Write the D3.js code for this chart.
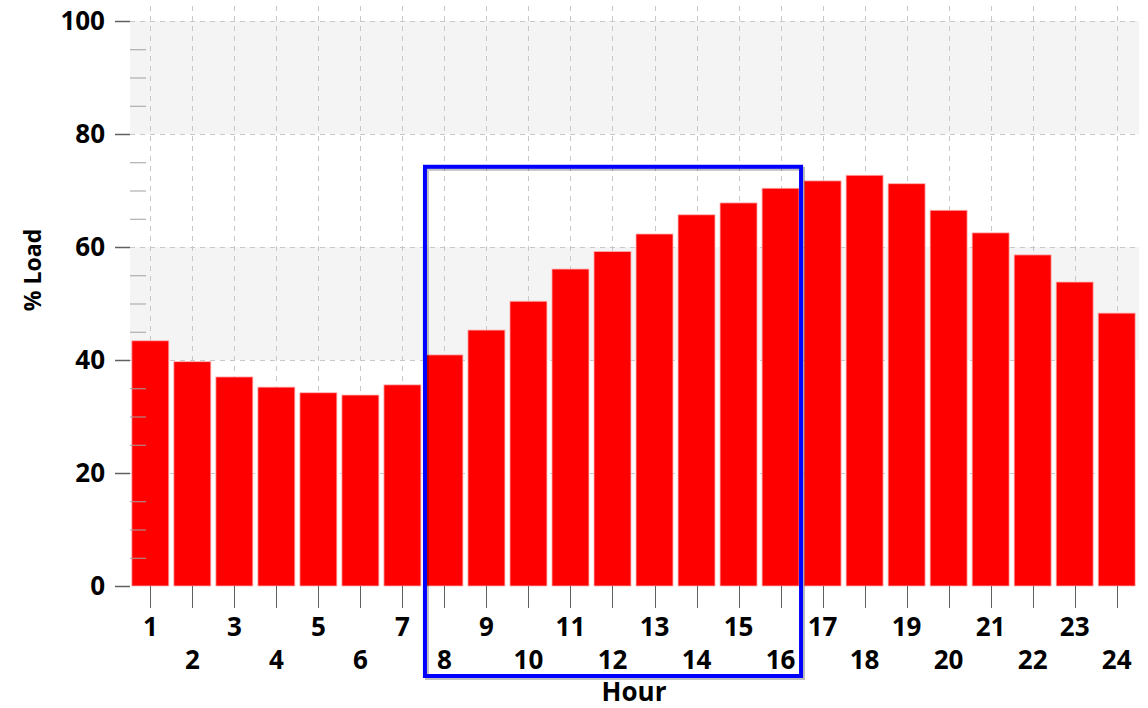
<html>
<head>
<script src="https://cdnjs.cloudflare.com/ajax/libs/d3/7.8.5/d3.min.js"></script>
<style>
body { margin: 0; background: #fff; }
text { font-family: "Open Sans", "Noto Sans", sans-serif; font-weight: bold; fill: #000; }
</style>
</head>
<body>
<svg width="1148" height="708" id="chart"></svg>
<script>
// hourly load profile
var hours = d3.range(1, 25);
var load = [43.4, 39.7, 37.0, 35.2, 34.2, 33.8, 35.6, 40.9, 45.3, 50.4, 56.1, 59.2,
            62.3, 65.7, 67.8, 70.4, 71.7, 72.7, 71.2, 66.5, 62.5, 58.6, 53.8, 48.3];
var yTicks = [0, 20, 40, 60, 80, 100];
var shadedBands = [[80, 100], [40, 60]];
var highlight = [8, 16]; // boxed hours

var svg = d3.select("#chart");
var pLeft = 130, pRight = 1139, pTop = 21, pBottom = 586;

var x = d3.scaleBand().domain(hours).range([pLeft + 1, pRight - 3]).paddingInner(0.12).paddingOuter(0.02);
var y = d3.scaleLinear().domain([0, 100]).range([pBottom, pTop]);

// shaded bands
svg.append("g").selectAll("rect")
  .data(shadedBands)
  .enter().append("rect")
  .attr("x", pLeft)
  .attr("width", pRight - pLeft)
  .attr("y", function(d) { return y(d[1]); })
  .attr("height", function(d) { return y(d[0]) - y(d[1]); })
  .style("fill", "#f4f4f4");

// grid
var grid = svg.append("g").style("stroke", "#c8c8c8").style("stroke-dasharray", "5,5").style("stroke-width", 1);
grid.selectAll("line.h")
  .data(yTicks.slice(1))
  .enter().append("line")
  .attr("x1", pLeft).attr("x2", pRight)
  .attr("y1", function(d) { return y(d) + 0.5; })
  .attr("y2", function(d) { return y(d) + 0.5; });
grid.selectAll("line.v")
  .data(hours)
  .enter().append("line")
  .attr("x1", function(d) { return Math.round(x(d) + x.bandwidth() / 2) + 0.5; })
  .attr("x2", function(d) { return Math.round(x(d) + x.bandwidth() / 2) + 0.5; })
  .attr("y1", 6).attr("y2", pBottom);

// bars
svg.append("g").selectAll("rect")
  .data(load)
  .enter().append("rect")
  .attr("x", function(d, i) { return x(hours[i]); })
  .attr("width", x.bandwidth())
  .attr("y", function(d) { return y(d); })
  .attr("height", function(d) { return y(0) - y(d); })
  .style("fill", "#ff0000")
  .style("stroke", "#ffb0b0")
  .style("stroke-width", 0.8);

// y axis: major ticks out, minor ticks in
var yAxis = svg.append("g");
yAxis.selectAll("line.major")
  .data(yTicks)
  .enter().append("line")
  .attr("x1", 115).attr("x2", pLeft)
  .attr("y1", function(d) { return y(d) + 0.5; })
  .attr("y2", function(d) { return y(d) + 0.5; })
  .style("stroke", "#606060").style("stroke-width", 1.5);
yAxis.selectAll("line.minor")
  .data(d3.range(5, 100, 5).filter(function(v) { return v % 20 != 0; }))
  .enter().append("line")
  .attr("x1", pLeft).attr("x2", 146)
  .attr("y1", function(d) { return y(d) + 0.5; })
  .attr("y2", function(d) { return y(d) + 0.5; })
  .style("stroke", "#a0a0a0").style("stroke-width", 1);
yAxis.selectAll("text")
  .data(yTicks)
  .enter().append("text")
  .attr("x", 105)
  .attr("y", function(d) { return y(d); })
  .attr("dy", "0.35em")
  .attr("text-anchor", "end")
  .style("font-size", "26px")
  .text(function(d) { return d; });

// x axis
var xAxis = svg.append("g");
xAxis.selectAll("line")
  .data(hours)
  .enter().append("line")
  .attr("x1", function(d) { return Math.round(x(d) + x.bandwidth() / 2) + 0.5; })
  .attr("x2", function(d) { return Math.round(x(d) + x.bandwidth() / 2) + 0.5; })
  .attr("y1", pBottom).attr("y2", 608)
  .style("stroke", "#606060").style("stroke-width", 1);
xAxis.selectAll("text")
  .data(hours)
  .enter().append("text")
  .attr("x", function(d) { return x(d) + x.bandwidth() / 2; })
  .attr("y", function(d) { return d % 2 ? 627 : 660; })
  .attr("dy", "0.35em")
  .attr("text-anchor", "middle")
  .style("font-size", "26px")
  .text(function(d) { return d; });

svg.append("text")
  .attr("x", 634).attr("y", 692).attr("dy", "0.35em")
  .attr("text-anchor", "middle")
  .style("font-size", "26px")
  .text("Hour");
svg.append("text")
  .attr("transform", "translate(33,270) rotate(-90)")
  .attr("dy", "0.35em")
  .attr("text-anchor", "middle")
  .style("font-size", "23px")
  .text("% Load");

// highlight box
var bx0 = x(highlight[0]) - 1, bx1 = x(highlight[1]) + x.bandwidth() + 2;
var by0 = y(74.2), by1 = 676;
svg.append("rect")
  .attr("x", bx0 + 2).attr("y", by0 + 2)
  .attr("width", bx1 - bx0).attr("height", by1 - by0)
  .style("fill", "none").style("stroke", "#000").style("stroke-opacity", 0.25).style("stroke-width", 4);
svg.append("rect")
  .attr("x", bx0).attr("y", by0)
  .attr("width", bx1 - bx0).attr("height", by1 - by0)
  .style("fill", "none").style("stroke", "#0000ff").style("stroke-width", 4);
</script>
</body>
</html>
